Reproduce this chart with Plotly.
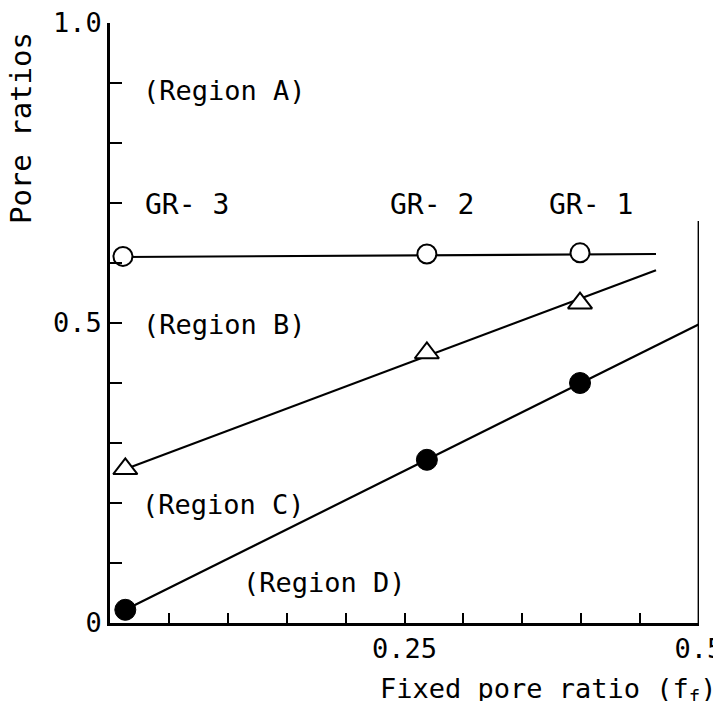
import plotly.graph_objects as go

# ---- data ----
samples = ["GR-3", "GR-2", "GR-1"]
fixed_ratio_circ = [0.011, 0.269, 0.399]
fixed_ratio_tri = [0.013, 0.269, 0.399]
fixed_ratio_dot = [0.013, 0.269, 0.399]
open_circle_vals = [0.611, 0.615, 0.617]
triangle_vals = [0.257, 0.450, 0.533]
filled_dot_vals = [0.022, 0.272, 0.400]

# fitted boundary lines (end points)
circ_fit_x = [0.011, 0.4635]
circ_fit_y = [0.610, 0.615]
tri_fit_x = [0.011, 0.4635]
tri_fit_y = [0.255, 0.588]
dot_fit_x = [0.013, 0.5]
dot_fit_y = [0.022, 0.498]

y_tick_vals = [round(i * 0.1, 2) for i in range(11)]
y_tick_text = ["0", "", "", "", "", "0.5", "", "", "", "", "1.0"]
x_tick_vals = [round(i * 0.05, 3) for i in range(11)]
x_tick_text = ["", "", "", "", "", "0.25", "", "", "", "", "0.5"]

region_labels = ["(Region A)", "(Region B)", "(Region C)", "(Region D)"]
region_x = [0.0976, 0.0976, 0.0960, 0.1825]
region_y = [0.887, 0.497, 0.197, 0.067]
gr_labels = ["GR- 3", "GR- 2", "GR- 1"]
gr_x = [0.065, 0.273, 0.408]
gr_y = [0.697, 0.697, 0.697]

FONT = "DejaVu Sans Mono"
BLACK = "#000000"

fig = go.Figure()

for fx, fy in [(circ_fit_x, circ_fit_y), (tri_fit_x, tri_fit_y), (dot_fit_x, dot_fit_y)]:
    fig.add_trace(go.Scatter(x=fx, y=fy, mode="lines",
                             line=dict(color=BLACK, width=2.2),
                             showlegend=False, hoverinfo="skip", cliponaxis=False))

fig.add_trace(go.Scatter(x=fixed_ratio_circ, y=open_circle_vals, mode="markers",
                         marker=dict(symbol="circle", size=19, color="white",
                                     line=dict(color=BLACK, width=2)),
                         showlegend=False, cliponaxis=False, text=samples))
fig.add_trace(go.Scatter(x=fixed_ratio_tri, y=triangle_vals, mode="markers",
                         marker=dict(symbol="triangle-up", size=21, color="white",
                                     line=dict(color=BLACK, width=2)),
                         showlegend=False, cliponaxis=False, text=samples))
fig.add_trace(go.Scatter(x=fixed_ratio_dot, y=filled_dot_vals, mode="markers",
                         marker=dict(symbol="circle", size=21, color=BLACK,
                                     line=dict(color=BLACK, width=1)),
                         showlegend=False, cliponaxis=False, text=samples))

annotations = []
for t, x, y in zip(region_labels, region_x, region_y):
    annotations.append(dict(text=t, x=x, y=y, xref="x", yref="y", showarrow=False,
                            xanchor="center", yanchor="middle",
                            font=dict(family=FONT, size=27, color=BLACK)))
for t, x, y in zip(gr_labels, gr_x, gr_y):
    annotations.append(dict(text=t, x=x, y=y, xref="x", yref="y", showarrow=False,
                            xanchor="center", yanchor="middle",
                            font=dict(family=FONT, size=28, color=BLACK)))
annotations.append(dict(text="Pore ratios", x=-0.151, y=0.825, xref="paper", yref="paper",
                        showarrow=False, textangle=-90, xanchor="center", yanchor="middle",
                        font=dict(family=FONT, size=29, color=BLACK)))
annotations.append(dict(text="Fixed pore ratio (f<sub>f</sub>)", x=0.745, y=-0.112,
                        xref="paper", yref="paper", showarrow=False,
                        xanchor="center", yanchor="middle",
                        font=dict(family=FONT, size=27, color=BLACK)))

# partial right frame line
shapes = [dict(type="line", xref="x", yref="y", x0=0.5, x1=0.5, y0=0, y1=0.67,
               line=dict(color=BLACK, width=2.8))]

# the page body adds an 8px offset, so margins are reduced by 8px on the left/top
fig.update_layout(
    width=721, height=701,
    margin=dict(l=102, r=30, t=15, b=86, autoexpand=False),
    paper_bgcolor="white", plot_bgcolor="white",
    annotations=annotations, shapes=shapes,
    xaxis=dict(range=[0, 0.5], showgrid=False, zeroline=False, automargin=False,
               showline=True, linecolor=BLACK, linewidth=2.8,
               ticks="inside", ticklen=10, tickwidth=2.2, tickcolor=BLACK,
               tickmode="array", tickvals=x_tick_vals, ticktext=x_tick_text,
               ticklabelstandoff=0, ticklabeloverflow="allow",
               tickfont=dict(family=FONT, size=27, color=BLACK)),
    yaxis=dict(range=[0, 1.0], showgrid=False, zeroline=False, automargin=False,
               showline=True, linecolor=BLACK, linewidth=2.8,
               ticks="inside", ticklen=12, tickwidth=2.2, tickcolor=BLACK,
               tickmode="array", tickvals=y_tick_vals, ticktext=y_tick_text,
               ticklabelstandoff=0, ticklabeloverflow="allow",
               tickfont=dict(family=FONT, size=27, color=BLACK)),
)

fig.write_html("out.html")
